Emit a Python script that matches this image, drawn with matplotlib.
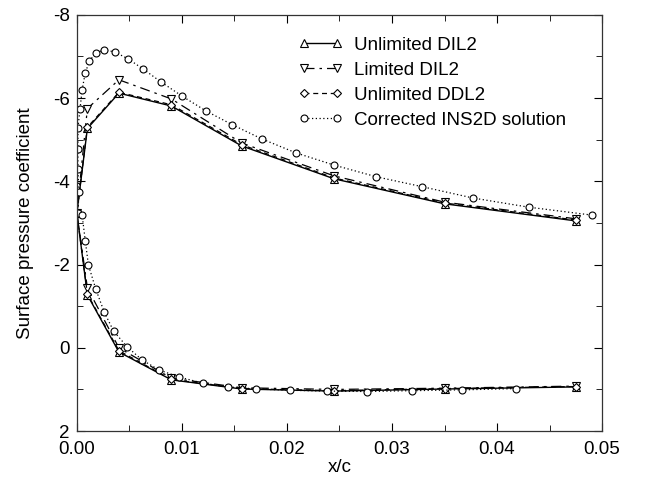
import matplotlib
matplotlib.use("Agg")
import matplotlib.pyplot as plt
from matplotlib.ticker import MultipleLocator

plt.rcParams['font.family'] = ['Liberation Sans', 'DejaVu Sans']
plt.rcParams['axes.unicode_minus'] = False

# Solver sample stations (upper surface then lower surface, leading edge shared)
x_sol = [0.0475, 0.0350, 0.0245, 0.0157, 0.0090, 0.0040, 0.0010, 0.0,
         0.0010, 0.0040, 0.0090, 0.0157, 0.0245, 0.0350, 0.0475]

cp_unlim_dil2 = [-3.05, -3.46, -4.06, -4.85, -5.81, -6.12, -5.27, -3.24,
                 -1.27, 0.10, 0.77, 0.99, 1.04, 0.99, 0.94]
cp_lim_dil2 = [-3.10, -3.50, -4.13, -4.92, -5.98, -6.44, -5.75, -3.24,
               -1.44, 0.00, 0.73, 0.96, 1.00, 0.97, 0.92]
cp_unlim_ddl2 = [-3.07, -3.48, -4.08, -4.88, -5.84, -6.14, -5.30, -3.24,
                 -1.29, 0.07, 0.76, 0.98, 1.03, 0.98, 0.93]

# Corrected INS2D solution
x_ins = [0.0490, 0.0430, 0.0377, 0.0329, 0.0285, 0.0245, 0.0209, 0.0176,
         0.0148, 0.0123, 0.0100, 0.0080, 0.0063, 0.0049, 0.0036, 0.0026,
         0.0018, 0.0012, 0.0008, 0.0005, 0.0003, 0.0001, 0.0001, 0.0001,
         0.0002, 0.0001, 0.0005, 0.0008, 0.0011, 0.0018, 0.0026, 0.0035,
         0.0048, 0.0062, 0.0078, 0.0097, 0.0120, 0.0144, 0.0171, 0.0203,
         0.0238, 0.0276, 0.0319, 0.0367, 0.0418]
cp_ins = [-3.19, -3.38, -3.60, -3.87, -4.11, -4.39, -4.68, -5.02,
          -5.36, -5.69, -6.05, -6.39, -6.70, -6.94, -7.11, -7.16,
          -7.09, -6.89, -6.61, -6.20, -5.74, -5.28, -4.78, -4.30,
          -3.75, -3.24, -3.19, -2.57, -1.99, -1.41, -0.86, -0.40,
          -0.02, 0.29, 0.53, 0.70, 0.85, 0.94, 0.99, 1.02,
          1.04, 1.05, 1.03, 1.01, 0.98]

labels = ["Unlimited DIL2", "Limited DIL2", "Unlimited DDL2",
          "Corrected INS2D solution"]

FS = 13.5

fig = plt.figure(figsize=(6.46, 4.8), dpi=100)
ax = fig.add_axes([0.119, 0.102, 0.813, 0.867])

mk = dict(markerfacecolor='white', markeredgecolor='black', markeredgewidth=0.8,
          color='black')
ax.plot(x_sol, cp_unlim_dil2, linestyle='-', lw=1.0, marker='^', ms=5.5,
        label=labels[0], **mk)
ax.plot(x_sol, cp_lim_dil2, linestyle=(0, (8, 4, 2, 4)), lw=0.9, marker='v',
        ms=5.5, label=labels[1], **mk)
ax.plot(x_sol, cp_unlim_ddl2, linestyle=(0, (4, 3)), lw=0.9, marker='D',
        ms=4, label=labels[2], **mk)
ax.plot(x_ins, cp_ins, linestyle=(0, (1, 2)), lw=0.9, marker='o', ms=5,
        label=labels[3], **mk)

ax.set_xlim(0, 0.05)
ax.set_ylim(2, -8)
ax.xaxis.set_major_locator(MultipleLocator(0.01))
ax.xaxis.set_minor_locator(MultipleLocator(0.005))
ax.yaxis.set_major_locator(MultipleLocator(2))
ax.yaxis.set_minor_locator(MultipleLocator(1))
ax.xaxis.set_major_formatter(matplotlib.ticker.FormatStrFormatter('%.2f'))
ax.tick_params(which='both', direction='in', top=True, right=True,
               labelsize=FS)
ax.tick_params(axis='x', pad=7)
ax.tick_params(axis='y', pad=5)
ax.tick_params(which='major', length=6)
ax.tick_params(which='minor', length=4)
for s in ax.spines.values():
    s.set_linewidth(0.9)
    s.set_color('#333333')

ax.set_xlabel('x/c', fontsize=FS, labelpad=1)
ax.set_ylabel('Surface pressure coefficient', fontsize=FS, labelpad=14)

ax.legend(loc='upper left', bbox_to_anchor=(0.421, 0.948), frameon=False,
          fontsize=FS, numpoints=2, handlelength=2.4, handletextpad=0.6,
          labelspacing=0.42, borderpad=0, borderaxespad=0)

fig.savefig('out.png', dpi=100)
